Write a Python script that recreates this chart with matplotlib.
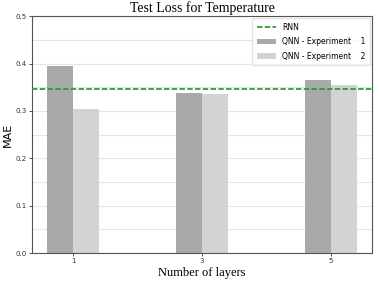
import numpy as np
import matplotlib
matplotlib.use("Agg")
import matplotlib.pyplot as plt
from matplotlib.ticker import MultipleLocator

layers = ["1", "3", "5"]
exp1 = [0.394, 0.338, 0.365]
exp2 = [0.305, 0.336, 0.355]
rnn = 0.347

fig = plt.figure(figsize=(3.79, 2.83), dpi=100)
ax = fig.add_axes([0.084, 0.106, 0.898, 0.837])

x = np.arange(len(layers))
w = 0.2
ax.bar(x - w / 2, exp1, w, color="darkgray", label="QNN - Experiment    1", zorder=2)
ax.bar(x + w / 2, exp2, w, color="lightgray", label="QNN - Experiment    2", zorder=2)
ax.axhline(rnn, color="#2ca02c", linestyle="--", dashes=(3, 1.3), linewidth=1.3,
           label="RNN", zorder=3)

ax.set_ylim(0, 0.5)
ax.yaxis.set_major_locator(MultipleLocator(0.1))
ax.yaxis.set_minor_locator(MultipleLocator(0.05))
ax.grid(axis="y", which="both", color="#e6e6e6", linewidth=0.8, zorder=0)
ax.set_xticks(x)
ax.set_xticklabels(layers)
ax.tick_params(labelsize=5, length=2, width=0.6, pad=1.5, colors="#333333")
ax.tick_params(which="minor", length=0)
for s in ax.spines.values():
    s.set_color("#555555")
    s.set_linewidth(0.8)

ax.set_title("Test Loss for Temperature", fontsize=10, family="Liberation Serif", pad=3)
ax.set_xlabel("Number of layers", fontsize=9, family="Liberation Serif", labelpad=2)
ax.set_ylabel("MAE", fontsize=8, labelpad=2)

ax.legend(loc="upper right", fontsize=5.5, framealpha=0.8, edgecolor="#dddddd",
          labelspacing=0.7, handlelength=2.5, borderaxespad=0.3, borderpad=0.6)

fig.savefig("out.png", dpi=100)
